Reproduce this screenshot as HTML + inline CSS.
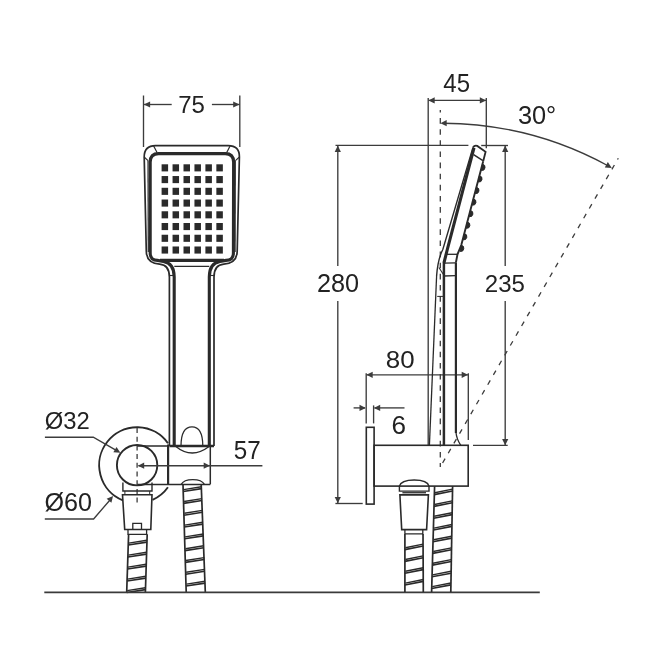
<!DOCTYPE html>
<html><head><meta charset="utf-8"><style>
html,body{margin:0;padding:0;background:#fff;}
svg{display:block;}
text{font-family:"Liberation Sans",sans-serif;}
svg{will-change:transform;}
</style></head><body>
<svg width="645" height="645" viewBox="0 0 645 645">
<rect width="645" height="645" fill="#fff"/>
<line x1="143.50" y1="95.50" x2="143.50" y2="147.00" stroke="#3c3c3c" stroke-width="1.35" />
<line x1="239.80" y1="95.50" x2="239.80" y2="147.00" stroke="#3c3c3c" stroke-width="1.35" />
<line x1="143.50" y1="104.50" x2="171.70" y2="104.50" stroke="#3c3c3c" stroke-width="1.35" />
<line x1="211.90" y1="104.50" x2="239.80" y2="104.50" stroke="#3c3c3c" stroke-width="1.35" />
<path d="M143.80,104.50 L150.10,101.40 L150.10,107.60 Z" fill="#3c3c3c" stroke="none"/>
<path d="M239.50,104.50 L233.20,107.60 L233.20,101.40 Z" fill="#3c3c3c" stroke="none"/>
<text transform="translate(178.20,112.80) scale(0.9676,1)" font-size="24.82" fill="#222">75</text>
<path d="M169.4,446 L169.4,277 C169.4,269 166.8,264.6 159.6,264.1 C151.6,263.6 146.4,259.5 146.3,251 L144.2,157 Q144.2,145.6 155.5,145.6 L228.2,145.6 Q239.5,145.6 239.4,157 L237.2,251 C237.1,259.5 231.8,263.6 223.8,264.1 C216.6,264.6 214,269 214,277 L214,446" stroke="#2a2a2a" stroke-width="1.7" fill="none" />
<path d="M174.2,446 L174.2,277 C174.2,269 171.4,262.8 163.4,261.5 L157.5,260.4 Q150.2,260.4 150.2,253 L150.2,162 Q150.2,153.6 158.6,153.6 L225.2,153.6 Q233.6,153.6 233.6,162 L233.4,253 Q233.4,260.4 226,260.4 L220,261.5 C212,262.8 209.3,269 209.3,277 L209.3,446" stroke="#2a2a2a" stroke-width="3.1" fill="none" />
<path d="M148.0,160.6 L148.3,252" stroke="#2a2a2a" stroke-width="1.2" fill="none" />
<line x1="160.00" y1="260.40" x2="224.00" y2="260.40" stroke="#2a2a2a" stroke-width="3.1" />
<line x1="174.30" y1="266.40" x2="209.30" y2="266.40" stroke="#2a2a2a" stroke-width="1.4" />
<line x1="169.40" y1="275.50" x2="174.30" y2="275.50" stroke="#2a2a2a" stroke-width="1.1" />
<line x1="209.30" y1="275.50" x2="214.00" y2="275.50" stroke="#2a2a2a" stroke-width="1.1" />
<line x1="153.50" y1="145.80" x2="157.20" y2="152.80" stroke="#2a2a2a" stroke-width="1.2" />
<line x1="230.20" y1="145.80" x2="226.60" y2="152.80" stroke="#2a2a2a" stroke-width="1.2" />
<line x1="144.10" y1="157.00" x2="148.10" y2="160.60" stroke="#2a2a2a" stroke-width="1.1" />
<line x1="239.40" y1="157.00" x2="235.40" y2="160.60" stroke="#2a2a2a" stroke-width="1.1" />
<path d="M235.3,160.6 L235.1,252" stroke="#2a2a2a" stroke-width="1.2" fill="none" />
<rect x="161.60" y="164.30" width="6.5" height="7.1" fill="#2a2a2a"/>
<rect x="161.60" y="176.04" width="6.5" height="7.1" fill="#2a2a2a"/>
<rect x="161.60" y="187.78" width="6.5" height="7.1" fill="#2a2a2a"/>
<rect x="161.60" y="199.52" width="6.5" height="7.1" fill="#2a2a2a"/>
<rect x="161.60" y="211.26" width="6.5" height="7.1" fill="#2a2a2a"/>
<rect x="161.60" y="223.00" width="6.5" height="7.1" fill="#2a2a2a"/>
<rect x="161.60" y="234.74" width="6.5" height="7.1" fill="#2a2a2a"/>
<rect x="161.60" y="246.48" width="6.5" height="7.1" fill="#2a2a2a"/>
<rect x="172.55" y="164.30" width="6.5" height="7.1" fill="#2a2a2a"/>
<rect x="172.55" y="176.04" width="6.5" height="7.1" fill="#2a2a2a"/>
<rect x="172.55" y="187.78" width="6.5" height="7.1" fill="#2a2a2a"/>
<rect x="172.55" y="199.52" width="6.5" height="7.1" fill="#2a2a2a"/>
<rect x="172.55" y="211.26" width="6.5" height="7.1" fill="#2a2a2a"/>
<rect x="172.55" y="223.00" width="6.5" height="7.1" fill="#2a2a2a"/>
<rect x="172.55" y="234.74" width="6.5" height="7.1" fill="#2a2a2a"/>
<rect x="172.55" y="246.48" width="6.5" height="7.1" fill="#2a2a2a"/>
<rect x="183.50" y="164.30" width="6.5" height="7.1" fill="#2a2a2a"/>
<rect x="183.50" y="176.04" width="6.5" height="7.1" fill="#2a2a2a"/>
<rect x="183.50" y="187.78" width="6.5" height="7.1" fill="#2a2a2a"/>
<rect x="183.50" y="199.52" width="6.5" height="7.1" fill="#2a2a2a"/>
<rect x="183.50" y="211.26" width="6.5" height="7.1" fill="#2a2a2a"/>
<rect x="183.50" y="223.00" width="6.5" height="7.1" fill="#2a2a2a"/>
<rect x="183.50" y="234.74" width="6.5" height="7.1" fill="#2a2a2a"/>
<rect x="183.50" y="246.48" width="6.5" height="7.1" fill="#2a2a2a"/>
<rect x="194.45" y="164.30" width="6.5" height="7.1" fill="#2a2a2a"/>
<rect x="194.45" y="176.04" width="6.5" height="7.1" fill="#2a2a2a"/>
<rect x="194.45" y="187.78" width="6.5" height="7.1" fill="#2a2a2a"/>
<rect x="194.45" y="199.52" width="6.5" height="7.1" fill="#2a2a2a"/>
<rect x="194.45" y="211.26" width="6.5" height="7.1" fill="#2a2a2a"/>
<rect x="194.45" y="223.00" width="6.5" height="7.1" fill="#2a2a2a"/>
<rect x="194.45" y="234.74" width="6.5" height="7.1" fill="#2a2a2a"/>
<rect x="194.45" y="246.48" width="6.5" height="7.1" fill="#2a2a2a"/>
<rect x="205.40" y="164.30" width="6.5" height="7.1" fill="#2a2a2a"/>
<rect x="205.40" y="176.04" width="6.5" height="7.1" fill="#2a2a2a"/>
<rect x="205.40" y="187.78" width="6.5" height="7.1" fill="#2a2a2a"/>
<rect x="205.40" y="199.52" width="6.5" height="7.1" fill="#2a2a2a"/>
<rect x="205.40" y="211.26" width="6.5" height="7.1" fill="#2a2a2a"/>
<rect x="205.40" y="223.00" width="6.5" height="7.1" fill="#2a2a2a"/>
<rect x="205.40" y="234.74" width="6.5" height="7.1" fill="#2a2a2a"/>
<rect x="205.40" y="246.48" width="6.5" height="7.1" fill="#2a2a2a"/>
<rect x="216.35" y="164.30" width="6.5" height="7.1" fill="#2a2a2a"/>
<rect x="216.35" y="176.04" width="6.5" height="7.1" fill="#2a2a2a"/>
<rect x="216.35" y="187.78" width="6.5" height="7.1" fill="#2a2a2a"/>
<rect x="216.35" y="199.52" width="6.5" height="7.1" fill="#2a2a2a"/>
<rect x="216.35" y="211.26" width="6.5" height="7.1" fill="#2a2a2a"/>
<rect x="216.35" y="223.00" width="6.5" height="7.1" fill="#2a2a2a"/>
<rect x="216.35" y="234.74" width="6.5" height="7.1" fill="#2a2a2a"/>
<rect x="216.35" y="246.48" width="6.5" height="7.1" fill="#2a2a2a"/>
<line x1="169.40" y1="446.00" x2="214.00" y2="446.00" stroke="#2a2a2a" stroke-width="2.4" />
<path d="M167.95,443.19 A37.9,37.9 0 1 0 122.90,500.34" stroke="#2a2a2a" stroke-width="1.9" fill="none" />
<path d="M152.52,499.82 A37.9,37.9 0 0 0 167.95,487.21" stroke="#2a2a2a" stroke-width="1.9" fill="none" />
<circle cx="137.1" cy="465.2" r="20.2" stroke="#2a2a2a" stroke-width="1.9" fill="none"/>
<line x1="168.10" y1="444.50" x2="168.10" y2="485.00" stroke="#2a2a2a" stroke-width="2.2" />
<line x1="210.30" y1="446.00" x2="210.30" y2="484.30" stroke="#2a2a2a" stroke-width="1.5" />
<line x1="137.00" y1="446.00" x2="168.10" y2="446.00" stroke="#2a2a2a" stroke-width="1.5" />
<line x1="137.00" y1="484.60" x2="210.30" y2="484.60" stroke="#2a2a2a" stroke-width="1.5" />
<path d="M181,446 C181,431 186,426.8 192,426.8 C198,426.8 202.8,431 202.8,446" stroke="#2a2a2a" stroke-width="1.3" fill="none" />
<path d="M175.5,446.2 C182,451.5 187,453 192.3,453 C198,453 203,451 209.5,446.2" stroke="#2a2a2a" stroke-width="1.3" fill="none" />
<line x1="137.10" y1="428.00" x2="137.10" y2="504.00" stroke="#3c3c3c" stroke-width="1.3" stroke-dasharray="5,3.7"/>
<path d="M122.9,482.6 L122.9,491 L152,491 L152,482.6" stroke="#2a2a2a" stroke-width="1.4" fill="none" />
<line x1="124.90" y1="491.00" x2="124.90" y2="494.60" stroke="#2a2a2a" stroke-width="1.0" />
<line x1="149.70" y1="491.00" x2="149.70" y2="494.60" stroke="#2a2a2a" stroke-width="1.0" />
<path d="M122.5,494.8 L152,494.8 L150.8,529.5 L124.7,529.5 Z" stroke="#2a2a2a" stroke-width="1.6" fill="none" />
<path d="M132.8,529.5 L132.8,523.3 L141.5,523.3 L141.5,529.5" stroke="#2a2a2a" stroke-width="1.3" fill="none" />
<path d="M128,529.8 L128,534.3 L146.6,534.3 L146.6,529.8" stroke="#2a2a2a" stroke-width="1.3" fill="none" />
<path d="M128.6,534.3 L126.7,592" stroke="#2a2a2a" stroke-width="1.7" fill="none" />
<path d="M147.2,534.3 L145.4,592" stroke="#2a2a2a" stroke-width="1.7" fill="none" />
<line x1="128.25" y1="545.00" x2="146.87" y2="542.10" stroke="#2a2a2a" stroke-width="1.6" />
<line x1="128.75" y1="543.10" x2="146.87" y2="540.20" stroke="#2a2a2a" stroke-width="1.4" />
<line x1="127.85" y1="557.00" x2="146.49" y2="554.10" stroke="#2a2a2a" stroke-width="1.6" />
<line x1="128.35" y1="555.10" x2="146.49" y2="552.20" stroke="#2a2a2a" stroke-width="1.4" />
<line x1="127.46" y1="569.00" x2="146.12" y2="566.10" stroke="#2a2a2a" stroke-width="1.6" />
<line x1="127.96" y1="567.10" x2="146.12" y2="564.20" stroke="#2a2a2a" stroke-width="1.4" />
<line x1="127.06" y1="581.00" x2="145.74" y2="578.10" stroke="#2a2a2a" stroke-width="1.6" />
<line x1="127.56" y1="579.10" x2="145.74" y2="576.20" stroke="#2a2a2a" stroke-width="1.4" />
<line x1="126.68" y1="592.50" x2="145.38" y2="589.60" stroke="#2a2a2a" stroke-width="1.6" />
<line x1="127.18" y1="590.60" x2="145.38" y2="587.70" stroke="#2a2a2a" stroke-width="1.4" />
<path d="M181.2,484.4 C183,481 187,479.6 192.8,479.6 C198.6,479.6 202.6,481 204.4,484.4" stroke="#2a2a2a" stroke-width="1.3" fill="none" />
<path d="M183.0,484.4 L186.2,592" stroke="#2a2a2a" stroke-width="1.7" fill="none" />
<path d="M201.2,484.4 L205.3,592" stroke="#2a2a2a" stroke-width="1.7" fill="none" />
<line x1="183.21" y1="491.50" x2="201.47" y2="488.60" stroke="#2a2a2a" stroke-width="1.6" />
<line x1="183.71" y1="489.60" x2="201.47" y2="486.70" stroke="#2a2a2a" stroke-width="1.4" />
<line x1="183.57" y1="503.40" x2="201.92" y2="500.50" stroke="#2a2a2a" stroke-width="1.6" />
<line x1="184.07" y1="501.50" x2="201.92" y2="498.60" stroke="#2a2a2a" stroke-width="1.4" />
<line x1="183.92" y1="515.20" x2="202.37" y2="512.30" stroke="#2a2a2a" stroke-width="1.6" />
<line x1="184.42" y1="513.30" x2="202.37" y2="510.40" stroke="#2a2a2a" stroke-width="1.4" />
<line x1="184.27" y1="527.00" x2="202.82" y2="524.10" stroke="#2a2a2a" stroke-width="1.6" />
<line x1="184.77" y1="525.10" x2="202.82" y2="522.20" stroke="#2a2a2a" stroke-width="1.4" />
<line x1="184.62" y1="538.80" x2="203.27" y2="535.90" stroke="#2a2a2a" stroke-width="1.6" />
<line x1="185.12" y1="536.90" x2="203.27" y2="534.00" stroke="#2a2a2a" stroke-width="1.4" />
<line x1="184.97" y1="550.60" x2="203.72" y2="547.70" stroke="#2a2a2a" stroke-width="1.6" />
<line x1="185.47" y1="548.70" x2="203.72" y2="545.80" stroke="#2a2a2a" stroke-width="1.4" />
<line x1="185.32" y1="562.40" x2="204.17" y2="559.50" stroke="#2a2a2a" stroke-width="1.6" />
<line x1="185.82" y1="560.50" x2="204.17" y2="557.60" stroke="#2a2a2a" stroke-width="1.4" />
<line x1="185.67" y1="574.20" x2="204.62" y2="571.30" stroke="#2a2a2a" stroke-width="1.6" />
<line x1="186.17" y1="572.30" x2="204.62" y2="569.40" stroke="#2a2a2a" stroke-width="1.4" />
<line x1="186.02" y1="586.00" x2="205.07" y2="583.10" stroke="#2a2a2a" stroke-width="1.6" />
<line x1="186.52" y1="584.10" x2="205.07" y2="581.20" stroke="#2a2a2a" stroke-width="1.4" />
<line x1="138.50" y1="465.70" x2="262.40" y2="465.70" stroke="#3c3c3c" stroke-width="1.35" />
<path d="M137.90,465.70 L144.20,462.60 L144.20,468.80 Z" fill="#3c3c3c" stroke="none"/>
<path d="M210.00,465.70 L203.70,468.80 L203.70,462.60 Z" fill="#3c3c3c" stroke="none"/>
<text transform="translate(233.83,458.90) scale(0.9432,1)" font-size="25.67" fill="#222">57</text>
<path d="M44.9,437.2 L93.3,437.2 L118,451.4" stroke="#3c3c3c" stroke-width="1.35" fill="none" />
<path d="M120.40,452.80 L113.39,452.34 L116.49,446.97 Z" fill="#3c3c3c" stroke="none"/>
<path d="M44.8,519 L93.6,519 L111.5,498.2" stroke="#3c3c3c" stroke-width="1.35" fill="none" />
<path d="M113.10,496.00 L111.39,502.81 L106.66,498.80 Z" fill="#3c3c3c" stroke="none"/>
<text transform="translate(44.85,429.00) scale(0.9712,1)" font-size="24.54" fill="#222">Ø32</text>
<text transform="translate(44.39,510.80) scale(0.9791,1)" font-size="25.67" fill="#222">Ø60</text>
<line x1="44.30" y1="592.40" x2="539.80" y2="592.40" stroke="#3a3a3a" stroke-width="1.9" />
<line x1="428.20" y1="98.00" x2="428.20" y2="445.40" stroke="#3c3c3c" stroke-width="1.35" />
<line x1="486.30" y1="98.00" x2="486.30" y2="148.20" stroke="#3c3c3c" stroke-width="1.35" />
<line x1="428.50" y1="100.40" x2="486.00" y2="100.40" stroke="#3c3c3c" stroke-width="1.35" />
<path d="M428.40,100.40 L434.70,97.30 L434.70,103.50 Z" fill="#3c3c3c" stroke="none"/>
<path d="M486.10,100.40 L479.80,103.50 L479.80,97.30 Z" fill="#3c3c3c" stroke="none"/>
<text transform="translate(443.32,91.80) scale(0.9506,1)" font-size="25.25" fill="#222">45</text>
<line x1="440.30" y1="110.00" x2="440.30" y2="467.00" stroke="#3c3c3c" stroke-width="1.3" stroke-dasharray="5.6,5.53" stroke-dashoffset="3.1"/>
<line x1="618.30" y1="158.20" x2="440.30" y2="467.00" stroke="#3c3c3c" stroke-width="1.3" stroke-dasharray="5,6.3" stroke-dashoffset="3.46"/>
<path d="M443.50,123.21 A348.05,348.05 0 0 1 607.50,165.50" stroke="#3c3c3c" stroke-width="1.35" fill="none"/>
<path d="M611.80,167.88 L604.79,167.49 L607.83,162.09 Z" fill="#3c3c3c" stroke="none"/>
<path d="M440.40,123.20 L446.69,120.09 L446.71,126.29 Z" fill="#3c3c3c" stroke="none"/>
<text transform="translate(517.88,124.00) scale(0.9728,1)" font-size="26.10" fill="#222">30°</text>
<line x1="335.50" y1="145.40" x2="468.40" y2="145.40" stroke="#3c3c3c" stroke-width="1.35" />
<line x1="481.20" y1="145.50" x2="508.00" y2="145.50" stroke="#3c3c3c" stroke-width="1.35" />
<line x1="337.80" y1="146.00" x2="337.80" y2="266.00" stroke="#3c3c3c" stroke-width="1.35" />
<line x1="337.80" y1="301.00" x2="337.80" y2="503.00" stroke="#3c3c3c" stroke-width="1.35" />
<path d="M337.80,145.60 L340.90,151.90 L334.70,151.90 Z" fill="#3c3c3c" stroke="none"/>
<path d="M337.80,503.30 L334.70,497.00 L340.90,497.00 Z" fill="#3c3c3c" stroke="none"/>
<line x1="335.40" y1="503.50" x2="362.70" y2="503.50" stroke="#3c3c3c" stroke-width="1.35" />
<text transform="translate(316.94,291.80) scale(0.9891,1)" font-size="25.53" fill="#222">280</text>
<line x1="505.20" y1="146.00" x2="505.20" y2="266.00" stroke="#3c3c3c" stroke-width="1.35" />
<line x1="505.20" y1="301.00" x2="505.20" y2="445.00" stroke="#3c3c3c" stroke-width="1.35" />
<path d="M505.20,145.60 L508.30,151.90 L502.10,151.90 Z" fill="#3c3c3c" stroke="none"/>
<path d="M505.20,445.30 L502.10,439.00 L508.30,439.00 Z" fill="#3c3c3c" stroke="none"/>
<line x1="473.00" y1="445.40" x2="507.70" y2="445.40" stroke="#3c3c3c" stroke-width="1.35" />
<text transform="translate(484.80,291.80) scale(0.9689,1)" font-size="24.82" fill="#222">235</text>
<line x1="366.50" y1="374.80" x2="468.00" y2="374.80" stroke="#3c3c3c" stroke-width="1.35" />
<path d="M366.40,374.80 L372.70,371.70 L372.70,377.90 Z" fill="#3c3c3c" stroke="none"/>
<path d="M468.00,374.80 L461.70,377.90 L461.70,371.70 Z" fill="#3c3c3c" stroke="none"/>
<line x1="366.20" y1="373.30" x2="366.20" y2="423.40" stroke="#3c3c3c" stroke-width="1.35" />
<line x1="468.30" y1="373.30" x2="468.30" y2="440.00" stroke="#3c3c3c" stroke-width="1.35" />
<text transform="translate(385.76,368.00) scale(1.0750,1)" font-size="24.11" fill="#222">80</text>
<line x1="373.60" y1="405.40" x2="373.60" y2="423.40" stroke="#3c3c3c" stroke-width="1.35" />
<line x1="353.60" y1="407.90" x2="365.00" y2="407.90" stroke="#3c3c3c" stroke-width="1.35" />
<path d="M365.80,407.90 L359.50,411.00 L359.50,404.80 Z" fill="#3c3c3c" stroke="none"/>
<line x1="374.50" y1="407.90" x2="404.50" y2="407.90" stroke="#3c3c3c" stroke-width="1.35" />
<path d="M373.90,407.90 L380.20,404.80 L380.20,411.00 Z" fill="#3c3c3c" stroke="none"/>
<text transform="translate(391.50,433.80) scale(1.0274,1)" font-size="25.39" fill="#222">6</text>
<rect x="366.3" y="427.3" width="7.8" height="76.8" stroke="#2a2a2a" stroke-width="1.6" fill="none"/>
<rect x="374.1" y="445.3" width="94.1" height="40.8" stroke="#2a2a2a" stroke-width="1.6" fill="none"/>
<path d="M399.4,486.1 C400.5,482 407,480 414.2,480 C421.4,480 428,482 429,486.1" stroke="#2a2a2a" stroke-width="1.4" fill="none" />
<path d="M399.4,486.1 L399.4,491.1 L429,491.1 L429,486.1" stroke="#2a2a2a" stroke-width="1.4" fill="none" />
<line x1="402.40" y1="492.60" x2="426.00" y2="492.60" stroke="#2a2a2a" stroke-width="1.0" />
<line x1="402.40" y1="494.20" x2="426.00" y2="494.20" stroke="#2a2a2a" stroke-width="1.0" />
<path d="M399.9,494.9 L428.4,494.9 L426.6,529.6 L401.7,529.6 Z" stroke="#2a2a2a" stroke-width="1.6" fill="none" />
<path d="M404.9,529.8 L404.9,533.9 L422.8,533.9 L422.8,529.8" stroke="#2a2a2a" stroke-width="1.3" fill="none" />
<path d="M404.9,533.9 L404.9,592" stroke="#2a2a2a" stroke-width="1.7" fill="none" />
<path d="M423.0,533.9 L423.3,592" stroke="#2a2a2a" stroke-width="1.7" fill="none" />
<line x1="404.90" y1="549.60" x2="423.08" y2="546.00" stroke="#2a2a2a" stroke-width="1.6" />
<line x1="405.40" y1="547.70" x2="423.08" y2="544.10" stroke="#2a2a2a" stroke-width="1.4" />
<line x1="404.90" y1="561.40" x2="423.14" y2="557.80" stroke="#2a2a2a" stroke-width="1.6" />
<line x1="405.40" y1="559.50" x2="423.14" y2="555.90" stroke="#2a2a2a" stroke-width="1.4" />
<line x1="404.90" y1="573.20" x2="423.20" y2="569.60" stroke="#2a2a2a" stroke-width="1.6" />
<line x1="405.40" y1="571.30" x2="423.20" y2="567.70" stroke="#2a2a2a" stroke-width="1.4" />
<line x1="404.90" y1="585.00" x2="423.26" y2="581.40" stroke="#2a2a2a" stroke-width="1.6" />
<line x1="405.40" y1="583.10" x2="423.26" y2="579.50" stroke="#2a2a2a" stroke-width="1.4" />
<path d="M434.6,486.3 L431.6,592" stroke="#2a2a2a" stroke-width="1.7" fill="none" />
<path d="M452.6,486.3 L450.8,592" stroke="#2a2a2a" stroke-width="1.7" fill="none" />
<line x1="434.36" y1="494.60" x2="452.46" y2="491.00" stroke="#2a2a2a" stroke-width="1.6" />
<line x1="434.86" y1="492.70" x2="452.46" y2="489.10" stroke="#2a2a2a" stroke-width="1.4" />
<line x1="434.03" y1="506.40" x2="452.26" y2="502.80" stroke="#2a2a2a" stroke-width="1.6" />
<line x1="434.53" y1="504.50" x2="452.26" y2="500.90" stroke="#2a2a2a" stroke-width="1.4" />
<line x1="433.69" y1="518.20" x2="452.06" y2="514.60" stroke="#2a2a2a" stroke-width="1.6" />
<line x1="434.19" y1="516.30" x2="452.06" y2="512.70" stroke="#2a2a2a" stroke-width="1.4" />
<line x1="433.36" y1="530.00" x2="451.86" y2="526.40" stroke="#2a2a2a" stroke-width="1.6" />
<line x1="433.86" y1="528.10" x2="451.86" y2="524.50" stroke="#2a2a2a" stroke-width="1.4" />
<line x1="433.03" y1="541.70" x2="451.66" y2="538.10" stroke="#2a2a2a" stroke-width="1.6" />
<line x1="433.53" y1="539.80" x2="451.66" y2="536.20" stroke="#2a2a2a" stroke-width="1.4" />
<line x1="432.70" y1="553.40" x2="451.46" y2="549.80" stroke="#2a2a2a" stroke-width="1.6" />
<line x1="433.20" y1="551.50" x2="451.46" y2="547.90" stroke="#2a2a2a" stroke-width="1.4" />
<line x1="432.36" y1="565.10" x2="451.26" y2="561.50" stroke="#2a2a2a" stroke-width="1.6" />
<line x1="432.86" y1="563.20" x2="451.26" y2="559.60" stroke="#2a2a2a" stroke-width="1.4" />
<line x1="432.03" y1="576.80" x2="451.06" y2="573.20" stroke="#2a2a2a" stroke-width="1.6" />
<line x1="432.53" y1="574.90" x2="451.06" y2="571.30" stroke="#2a2a2a" stroke-width="1.4" />
<line x1="431.70" y1="588.50" x2="450.86" y2="584.90" stroke="#2a2a2a" stroke-width="1.6" />
<line x1="432.20" y1="586.60" x2="450.86" y2="583.00" stroke="#2a2a2a" stroke-width="1.4" />
<line x1="436.60" y1="276.00" x2="429.40" y2="445.30" stroke="#2a2a2a" stroke-width="1.3" />
<line x1="443.90" y1="263.00" x2="443.90" y2="445.30" stroke="#2a2a2a" stroke-width="2.5" />
<line x1="455.90" y1="262.50" x2="455.90" y2="433.00" stroke="#2a2a2a" stroke-width="2.2" />
<path d="M455.9,432 C456.5,438 458.5,442 460.8,445.3" stroke="#2a2a2a" stroke-width="1.3" fill="none" />
<line x1="438.90" y1="267.50" x2="443.90" y2="275.20" stroke="#2a2a2a" stroke-width="1.1" />
<line x1="437.20" y1="296.40" x2="443.30" y2="296.40" stroke="#2a2a2a" stroke-width="1.0" />
<line x1="446.20" y1="254.30" x2="457.50" y2="254.30" stroke="#2a2a2a" stroke-width="1.3" />
<line x1="443.90" y1="263.20" x2="455.90" y2="262.80" stroke="#2a2a2a" stroke-width="1.3" />
<line x1="443.90" y1="276.00" x2="455.50" y2="275.60" stroke="#2a2a2a" stroke-width="1.3" />
<path d="M443.9,263.2 L447.3,249.5 L474.0,147.8" stroke="#2a2a2a" stroke-width="3.1" fill="none" />
<path d="M436.6,276 C437.3,266 439.5,256 442.9,249.2 L472.9,147.6" stroke="#2a2a2a" stroke-width="1.4" fill="none" />
<path d="M472.9,147.6 Q474.6,144.9 477.2,145.9 L485.6,151.8 L483.2,161.2" stroke="#2a2a2a" stroke-width="1.8" fill="none" />
<line x1="473.60" y1="154.60" x2="482.90" y2="160.70" stroke="#2a2a2a" stroke-width="1.5" />
<path d="M483.2,161.2 L461.3,245 L457.5,254.3 L455.9,262.5" stroke="#2a2a2a" stroke-width="1.9" fill="none" />
<path d="M482.50,164.20 A3.1,3.1 0 0 1 481.30,170.40 Z" stroke="#2a2a2a" stroke-width="1" fill="#2a2a2a"/>
<path d="M479.47,175.77 A3.1,3.1 0 0 1 478.27,181.97 Z" stroke="#2a2a2a" stroke-width="1" fill="#2a2a2a"/>
<path d="M476.44,187.34 A3.1,3.1 0 0 1 475.24,193.54 Z" stroke="#2a2a2a" stroke-width="1" fill="#2a2a2a"/>
<path d="M473.41,198.91 A3.1,3.1 0 0 1 472.21,205.11 Z" stroke="#2a2a2a" stroke-width="1" fill="#2a2a2a"/>
<path d="M470.38,210.48 A3.1,3.1 0 0 1 469.18,216.68 Z" stroke="#2a2a2a" stroke-width="1" fill="#2a2a2a"/>
<path d="M467.35,222.05 A3.1,3.1 0 0 1 466.15,228.25 Z" stroke="#2a2a2a" stroke-width="1" fill="#2a2a2a"/>
<path d="M464.31,233.62 A3.1,3.1 0 0 1 463.11,239.82 Z" stroke="#2a2a2a" stroke-width="1" fill="#2a2a2a"/>
<path d="M461.28,245.19 A3.1,3.1 0 0 1 460.08,251.39 Z" stroke="#2a2a2a" stroke-width="1" fill="#2a2a2a"/>
</svg>
</body></html>
